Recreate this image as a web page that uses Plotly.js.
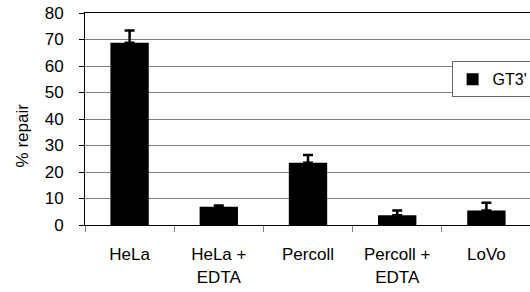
<!DOCTYPE html>
<html>
<head>
<meta charset="utf-8">
<script src="https://cdn.plot.ly/plotly-3.0.1.min.js"></script>
<style>
html,body{margin:0;padding:0;overflow:hidden;background:#fff;width:530px;height:292px;}
#chart{width:534px;height:292px;}
</style>
</head>
<body>
<div id="chart"></div>
<script>
const categories = ["HeLa", "HeLa +<br>EDTA", "Percoll", "Percoll +<br>EDTA", "LoVo"];
const repairValues = [68.8, 6.9, 23.5, 3.7, 5.5];
const repairErrors = [4.6, 0.5, 2.9, 1.8, 2.9];
const seriesName = "GT3'";
const yTickValues = [0, 10, 20, 30, 40, 50, 60, 70, 80];

const font = "Liberation Sans, Arial, sans-serif";

const trace = {
  type: "bar",
  x: categories,
  y: repairValues,
  name: seriesName,
  width: 0.43,
  marker: {color: "#000000", line: {color: "#000000", width: 0}},
  error_y: {
    type: "data",
    symmetric: false,
    array: repairErrors,
    arrayminus: repairErrors.map(() => 0),
    color: "#000000",
    thickness: 2.5,
    width: 5
  },
  showlegend: true
};

const layout = {
  width: 534,
  height: 292,
  margin: {l: 85, r: 0, t: 13, b: 67},
  paper_bgcolor: "#ffffff",
  plot_bgcolor: "#ffffff",
  font: {family: font, color: "#000000", size: 16},
  bargap: 0.57,
  showlegend: true,
  legend: {
    x: 0.822, y: 0.772, xanchor: "left", yanchor: "top",
    bgcolor: "#ffffff",
    bordercolor: "#666666",
    borderwidth: 1,
    font: {family: font, size: 16, color: "#000000"},
    itemwidth: 30,
    tracegroupgap: 0
  },
  xaxis: {
    type: "category",
    tickson: "boundaries",
    ticks: "outside",
    ticklen: 6,
    tickcolor: "#808080",
    tickwidth: 1,
    showline: true,
    linecolor: "#000000",
    linewidth: 1,
    mirror: true,
    showgrid: false,
    tickfont: {family: font, size: 17, color: "#000000"},
    ticklabelstandoff: 14,
    range: [-0.5, 4.5]
  },
  yaxis: {
    range: [0, 80],
    tickvals: yTickValues,
    ticktext: yTickValues.map(String),
    ticks: "outside",
    ticklen: 5,
    tickcolor: "#000000",
    tickwidth: 1,
    showline: true,
    linecolor: "#000000",
    linewidth: 1,
    showgrid: true,
    gridcolor: "#808080",
    gridwidth: 1,
    zeroline: false,
    tickfont: {family: font, size: 17, color: "#000000"},
    ticklabelstandoff: 12
  },
  annotations: [{
    text: "% repair",
    textangle: -90,
    xref: "paper", yref: "paper",
    x: (22 - 85) / 449, y: (225 - 135) / 212,
    xanchor: "center", yanchor: "middle",
    showarrow: false,
    font: {family: font, size: 17, color: "#000000"}
  }]
};

Plotly.newPlot("chart", [trace], layout, {displayModeBar: false, staticPlot: true});
</script>
</body>
</html>
